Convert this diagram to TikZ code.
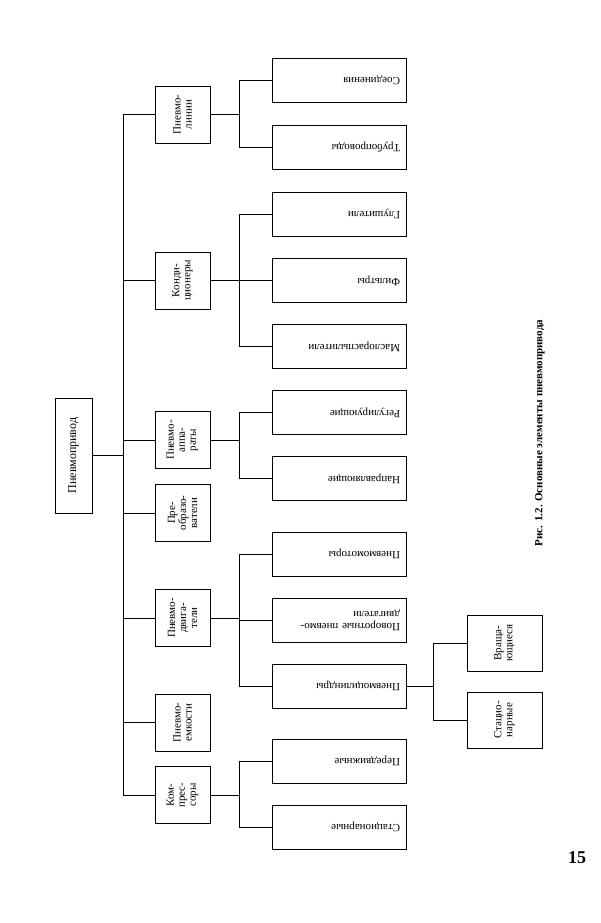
\documentclass[tikz,border=0pt]{standalone}
\usepackage{fontspec}
\setmainfont{Liberation Serif}
\usetikzlibrary{positioning,calc}

\tikzset{
  box/.style={draw, line width=0.9pt, inner sep=1pt, align=center},
  lvl/.style={box, rotate=90, minimum width=57pt, minimum height=55pt, font=\fontsize{11}{11}\selectfont},
  leaf/.style={box, rotate=180, minimum width=134pt, minimum height=44pt,
    text width=122pt, align=left, font=\fontsize{11}{12}\selectfont},
  link/.style={line width=0.9pt}
}

\begin{document}
\begin{tikzpicture}[x=1pt,y=-1pt]
\useasboundingbox (0,0) rectangle (600,923);

% root
\node[box, rotate=90, minimum width=115pt, minimum height=37pt, font=\fontsize{12}{12}\selectfont] (root) at (73.5,455.5) {Пневмопривод};

% second level
\node[lvl] (linii) at (182.5,114.5) {Пневмо-\\линии};
\node[lvl] (kond)  at (182.5,280.5) {Конди-\\ционеры};
\node[lvl] (appar) at (182.5,440) {Пневмо-\\аппа-\\раты};
\node[lvl] (preob) at (182.5,513) {Пре-\\образо-\\ватели};
\node[lvl] (dvig)  at (182.5,618) {Пневмо-\\двига-\\тели};
\node[lvl] (emk)   at (182.5,722.5) {Пневмо-\\емкости};
\node[lvl] (kompr) at (182.5,795) {Ком-\\прес-\\соры};

% third level
\node[leaf] (soed)   at (339,80.5)  {Соединения};
\node[leaf] (truba)  at (339,147.5) {Трубопроводы};
\node[leaf] (glush)  at (339,214)   {Глушители};
\node[leaf] (filtr)  at (339,280.5) {Фильтры};
\node[leaf] (masl)   at (339,346.5) {Маслораспылители};
\node[leaf] (regul)  at (339,412.5) {Регулирующие};
\node[leaf] (napr)   at (339,478.5) {Направляющие};
\node[leaf] (motor)  at (339,554)   {Пневмомоторы};
\node[leaf] (povor)  at (339,620)   {Поворотные пневмо-\\двигатели};
\node[leaf] (cilin)  at (339,686)   {Пневмоцилиндры};
\node[leaf] (peredv) at (339,761)   {Передвижные};
\node[leaf] (stac)   at (339,827)   {Стационарные};

% fourth level
\node[box, rotate=90, minimum width=56pt, minimum height=75pt, font=\fontsize{11}{11}\selectfont] (vrash) at (504.5,643) {Враща-\\ющиеся};
\node[box, rotate=90, minimum width=56pt, minimum height=75pt, font=\fontsize{11}{11}\selectfont] (stac2) at (504.5,720) {Стацио-\\нарные};

% trunks
\coordinate (t1) at (123,455.5);
\coordinate (s) at (239,0);
\coordinate (s4) at (433,0);
\draw[link] (root) -- (t1);
\draw[link] (t1 |- linii) -- (t1 |- kompr);
\foreach \n in {linii,kond,appar,preob,dvig,emk,kompr}
  \draw[link] (t1 |- \n) -- (\n);

\foreach \p/\a/\b in {linii/soed/truba, kond/glush/masl, appar/regul/napr, dvig/motor/cilin, kompr/peredv/stac}{
  \draw[link] (\p) -- (s |- \p);
  \draw[link] (s |- \a) -- (s |- \b);
}
\foreach \n in {soed,truba,glush,filtr,masl,regul,napr,motor,povor,cilin,peredv,stac}
  \draw[link] (s |- \n) -- (\n);

\draw[link] (cilin) -- (s4 |- cilin);
\draw[link] (s4 |- vrash) -- (s4 |- stac2);
\draw[link] (s4 |- vrash) -- (vrash);
\draw[link] (s4 |- stac2) -- (stac2);

% caption
\node[rotate=90, font=\fontsize{11}{12}\selectfont\bfseries] (cap) at (540,433) {Рис. 1.2. Основные элементы пневмопривода};
\node[font=\fontsize{18}{18}\selectfont\bfseries] (page) at (577,858) {15};
\end{tikzpicture}
\end{document}
